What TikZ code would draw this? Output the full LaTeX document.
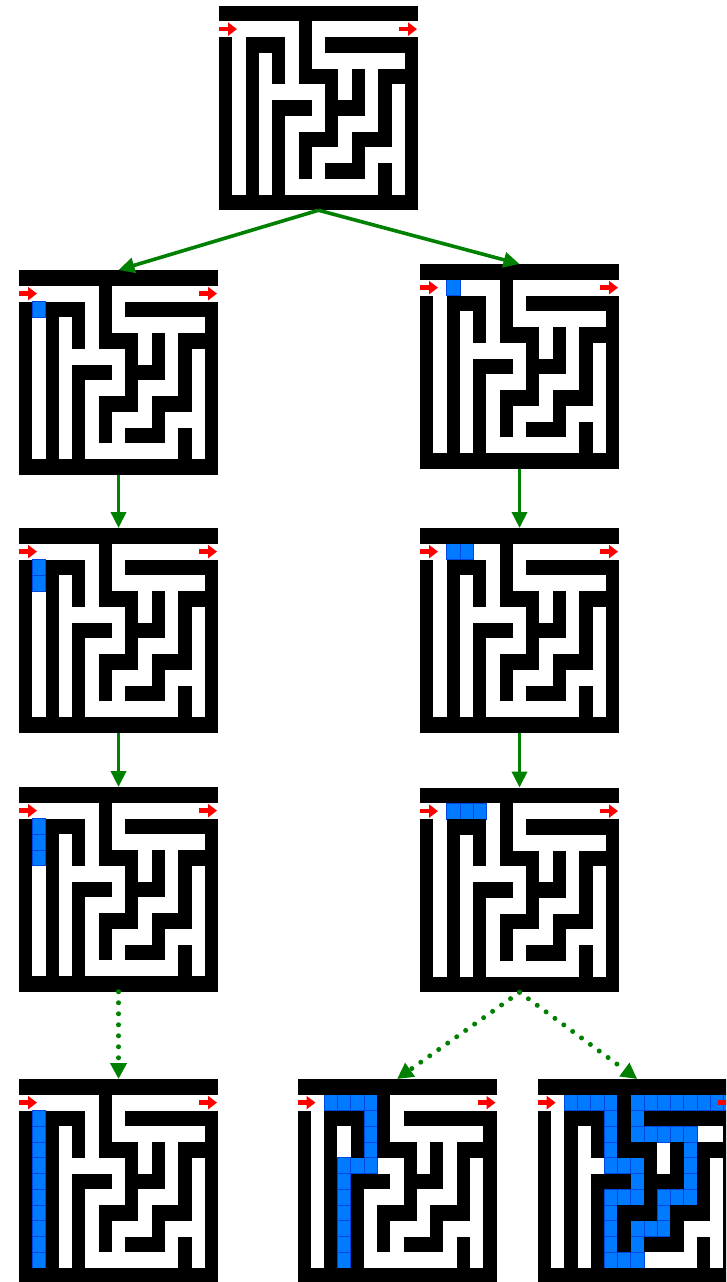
\documentclass[tikz,border=0pt]{standalone}
\usepackage{tikz}
\usetikzlibrary{arrows.meta}

\newcommand{\cellw}{13.27}
\newcommand{\cellh}{15.75}
% #1 name, #2/#3 top left corner, #4 visited cells (col/row)
\newcommand{\maze}[4]{%
  \begin{scope}[shift={(#2,#3)}]
    \if\relax\detokenize{#4}\relax\else
      \foreach \cx/\cy in {#4}
        \filldraw[visited] (\cx*\cellw,-\cy*\cellh) rectangle ++(\cellw,-\cellh);
    \fi
    \foreach \ca/\ra/\cb/\rb in {0/0/14/0, 0/12/14/12, 0/2/0/11, 14/2/14/11, 6/1/6/4,
        2/2/4/2, 2/2/2/11, 4/2/4/4, 8/2/13/2, 6/4/8/4, 8/4/8/8, 10/4/10/6, 12/4/13/4,
        12/4/12/8, 4/6/6/6, 4/6/4/11, 8/6/10/6, 6/8/8/8, 6/8/6/10, 10/8/12/8,
        10/8/10/10, 8/10/10/10, 12/10/12/11}
      \fill (\ca*\cellw,-\ra*\cellh) rectangle ({(\cb+1)*\cellw},{-(\rb+1)*\cellh});
    % entry and exit
    \draw[door] (0,-1.5*\cellh) -- (18,-1.5*\cellh);
    \draw[door] (180,-1.5*\cellh) -- (198,-1.5*\cellh);
    \node[maze box] (#1) at (7.5*\cellw,-6.5*\cellh) {};
  \end{scope}}

\begin{document}
\begin{tikzpicture}[x=1pt, y=1pt,
  visited/.style={fill={rgb,255:red,0;green,122;blue,255}, draw={rgb,255:red,0;green,70;blue,225}, line width=0.6pt},
  door/.style={draw=red, line width=4.5pt, -{Triangle[length=9pt,width=13pt]}},
  maze box/.style={rectangle, inner sep=0pt, outer sep=0pt, minimum width={15*\cellw pt}, minimum height={13*\cellh pt}},
  tree edge/.style={draw=green!50!black, line width=3.6pt, -{Triangle[length=16pt,width=15pt]}},
  skip edge/.style={draw=green!50!black, line width=5pt, line cap=round, dash pattern=on 0pt off 11pt, -{Triangle[length=16pt,width=16pt]}}]
\useasboundingbox (0,0) rectangle (726,-1282);
\clip (0,0) rectangle (726,-1282);

\maze{1}{219}{-5.5}{}
\maze{2}{19}{-270}{1/2}
\maze{3}{420}{-264}{2/1}
\maze{4}{19}{-528}{1/2,1/3}
\maze{5}{420}{-528}{2/1,3/1}
\maze{6}{19}{-787}{1/2,1/3,1/4}
\maze{7}{420}{-787.5}{2/1,3/1,4/1}
\maze{8}{19}{-1079}{1/2,1/3,1/4,1/5,1/6,1/7,1/8,1/9,1/10,1/11}
\maze{9}{297.5}{-1079}{2/1,3/1,4/1,5/1,5/2,5/3,5/4,3/5,4/5,5/5,3/6,3/7,3/8,3/9,3/10,3/11}
\maze{10}{537.7}{-1079}{2/1,3/1,4/1,5/1,7/1,8/1,9/1,10/1,11/1,12/1,13/1,14/1,
  5/2,7/2,5/3,7/3,8/3,9/3,10/3,11/3,5/4,11/4,5/5,6/5,7/5,11/5,7/6,11/6,
  5/7,6/7,7/7,9/7,10/7,11/7,5/8,9/8,5/9,7/9,8/9,9/9,5/10,7/10,5/11,6/11,7/11}

% one step at a time
\draw[tree edge] (1.south) -- (2.north);
\draw[tree edge] (1.south) -- (3.north);
\draw[tree edge] (2.south) -- (4.north);
\draw[tree edge] (3.south) -- (5.north);
\draw[tree edge] (4.south) -- (6.north);
\draw[tree edge] (5.south) -- (7.north);

% several steps later
\draw[skip edge] (6.south) -- (8.north);
\draw[skip edge] (7.south) -- (9.north);
\draw[skip edge] (7.south) -- (10.north);

\end{tikzpicture}
\end{document}
